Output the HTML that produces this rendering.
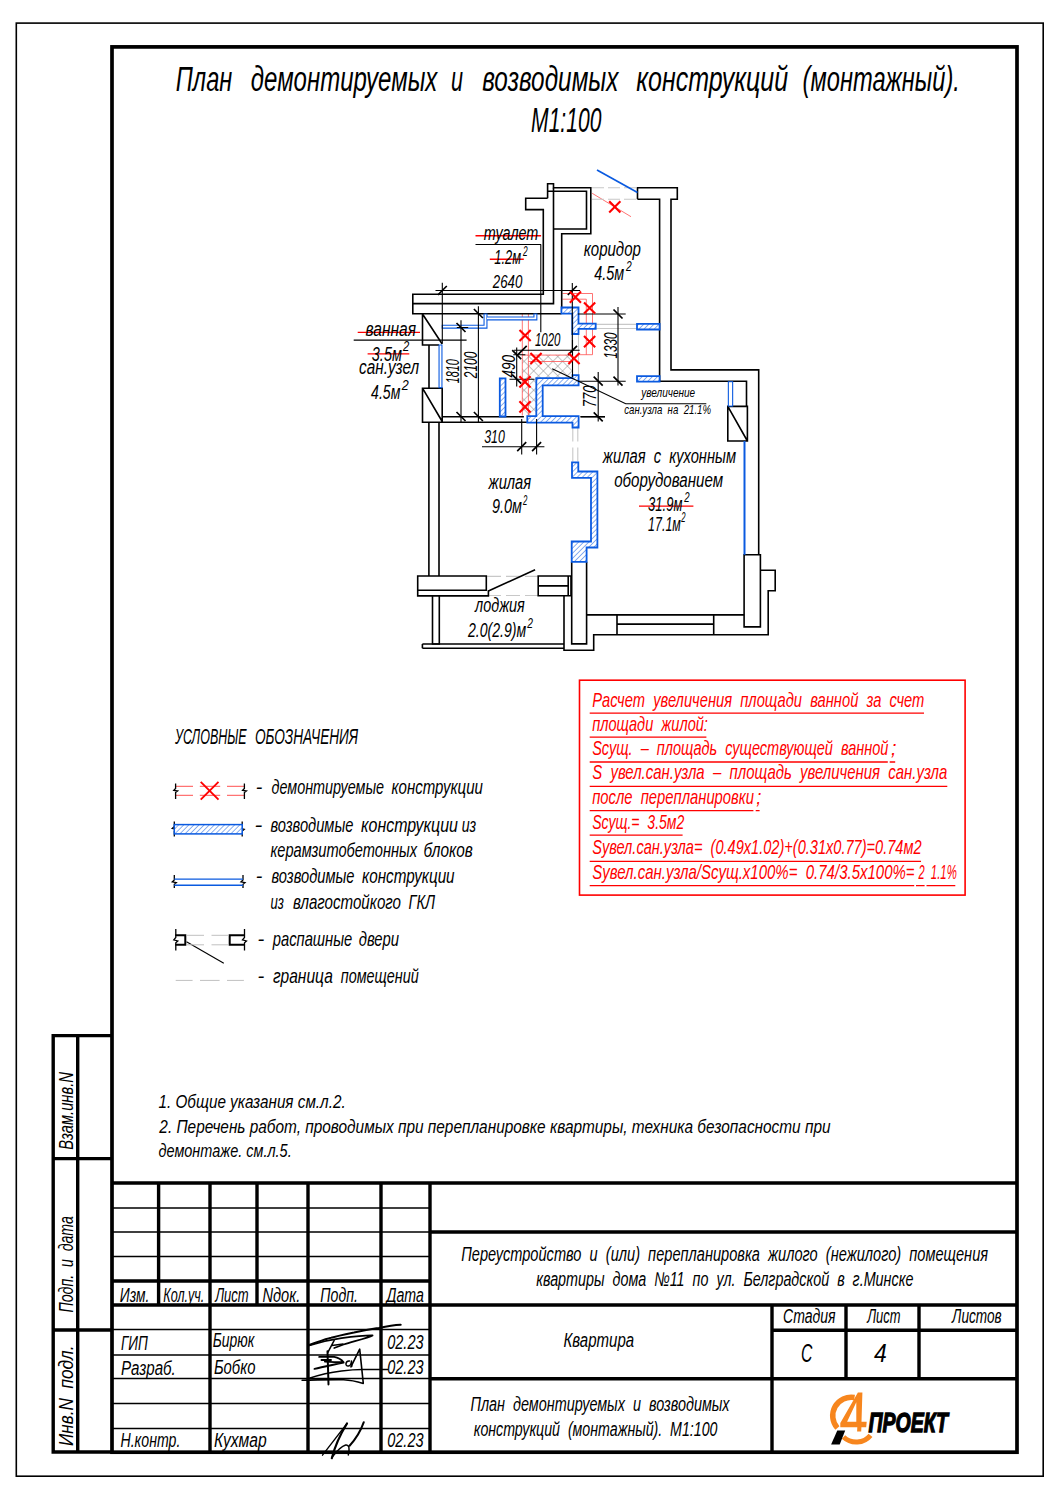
<!DOCTYPE html>
<html><head><meta charset="utf-8">
<style>
html,body{margin:0;padding:0;background:#fff;width:1060px;height:1500px;overflow:hidden}
svg{display:block}
.red{fill:#f00}
text{white-space:pre;font-family:"Liberation Sans",sans-serif;font-style:italic}
.k{stroke:#000;fill:none}
</style></head><body>
<svg width="1060" height="1500" viewBox="0 0 1060 1500">
<!-- outer frame -->
<rect x="16.3" y="23.1" width="1026.9" height="1453.1" class="k" stroke-width="1.6"/>
<!-- inner frame -->
<rect x="112" y="46.9" width="905" height="1405.3" class="k" stroke-width="3.7"/>
<!-- side strip -->
<g class="k" stroke-width="3.4">
<path d="M112 1035.6H53.2V1452H112 M77.7 1035.6V1452 M53.2 1158.6H112 M53.2 1330H112"/>
</g>
<!-- title block thick -->
<g class="k" stroke-width="3.4">
<path d="M112 1183H1017 M112 1281H430 M112 1305H1017 M430 1232H1017 M430 1378.7H1017 M772 1305V1452 M846 1305V1378.7 M919 1305V1378.7 M772 1330.3H1017"/>
<path d="M158.6 1183V1305 M210 1183V1452 M257 1183V1305 M308 1183V1452 M381 1183V1452 M430 1183V1452"/>
</g>
<g class="k" stroke-width="1.5">
<path d="M112 1208H430 M112 1232H430 M112 1256.6H430 M112 1329.6H430 M112 1355H430 M112 1378.5H430 M112 1403.5H430 M112 1428.5H430"/>
</g>
<!-- title -->

<defs>
<pattern id="hb" patternUnits="userSpaceOnUse" width="3.6" height="3.6" patternTransform="rotate(45)">
<rect width="3.6" height="3.6" fill="#fff"/><line x1="0" y1="0" x2="0" y2="3.6" stroke="#2a6ee6" stroke-width="1.1"/>
</pattern>
<pattern id="hx" patternUnits="userSpaceOnUse" width="6.8" height="6.8" patternTransform="rotate(45)">
<path d="M0 0V6.8M0 0H6.8" stroke="#8a8a8a" stroke-width="1" fill="none"/>
</pattern>
</defs>
<g id="plan">
<!-- crosshatch demolished -->
<path d="M522 354.7H572.5V378.1H536.3V415.5H522Z" fill="url(#hx)"/>
<!-- red thin demolished outlines -->
<g stroke="#ff5050" stroke-width="0.8" fill="none">
<path d="M562.5 293.5H592.5V354.7H578.5 M562.5 299.2H586.3V354.7"/>
<path d="M522.3 313.7V415.5 M528.4 313.7V415.5 M522 355.1H572.5 M528.4 361.5H572.5"/>
<path d="M592.2 193.3L631 216.7"/>
</g>
<!-- gray room boundaries -->
<g stroke="#c8c8c8" stroke-width="1.1" fill="none">
<path d="M592 187.7H637.5 M592 199.3H637.5" stroke-dasharray="12 4"/>
<path d="M595.7 324.4H637 M595.7 328.5H637"/>
<path d="M572.5 334V355 M578.5 334V377"/>
<path d="M572.8 427.5V462.3 M577.8 427.5V462.3" stroke-dasharray="14 6"/>
<path d="M487 576.4H538.2 M487 595.5H538.2" stroke-dasharray="14 5"/>
</g>
<!-- black walls -->
<g stroke="#000" stroke-width="1.6" fill="none" stroke-linejoin="miter">
<path d="M547.6 198.3V183.7H553.5V187.7H590.8V233.7H561.7V307.5"/>
<path d="M547.6 191.2H586.5V229H553.5"/>
<path d="M547.6 198.3H525.7V209.6H543.3V294.3H412.8V313.7H561.4"/>
<path d="M553.5 187.7V303.6H412.8"/>
<path d="M637.5 199.3V187.7H677.3V199.3H671V369.9H758.7V554.8"/>
<path d="M637.5 199.3H659.6V381.2H746.5V406.4"/>
<path d="M727.8 406.4H747.4V441H727.8Z M727.8 406.4L747.4 441"/>
<path d="M422.5 314V345H439 M422.5 314L442.2 344"/>
<path d="M429 345V388.2 M422.5 388.2H442.2V422.2H422.5Z M422.5 388.2L442.2 421.5"/>
<path d="M442.2 416.8H523.9 M442.2 422.3H526.9 M580.5 416.8H605"/>
<path d="M428.9 422.2V576 M439 422.2V576"/>
<path d="M417.7 576H486.3V590.2H417.7Z M417.7 590.2V595.9H488.4V590.2"/>
<path d="M488.4 591L535.1 569.7"/>
<path d="M432.5 595.9V644H439.3V595.9"/>
<path d="M422.4 644H564 M422.4 648.2H564 M422.4 644V648.2"/>
<path d="M538.2 576H571V595.8H538.2Z M538.2 585.9H568.2 M568.2 576V595.8"/>
<path d="M571.7 561.8V643.9H586.6V561.8"/>
<path d="M564 595.8V650.3H593.7V634.7H768.2V590.8H775.2V570.3H760.4"/>
<path d="M744.1 554.8H760.4V626.9H744.1Z"/>
<path d="M586.6 614.9H744.1 M617 614.9V634.7 M713.7 614.9V634.7 M617 624.1H713.7"/>
</g>
<!-- blue GKL -->
<g fill="none" stroke-linejoin="miter">
<path d="M441.7 326.7H485.5V313.5 M485.5 318.4H535.4V313.5 M440.5 344.4V388.2" stroke="#0a5ae0" stroke-width="4"/>
<path d="M443 326.7H485.5V314.5 M487 318.4H535.4V314.5 M440.5 345.5V387" stroke="#fff" stroke-width="1.8"/>
<path d="M730.5 381.2V406.6" stroke="#0a5ae0" stroke-width="5.4"/>
<path d="M730.5 382.2V405.6" stroke="#fff" stroke-width="3.2"/>
<path d="M744.5 441V554.8" stroke="#0a5ae0" stroke-width="2"/>
<path d="M597 170L637.5 192.6" stroke="#0a5ae0" stroke-width="1.7"/>
</g>
<!-- blue hatched blocks -->
<g fill="url(#hb)" stroke="#0a5ae0" stroke-width="1.8" stroke-linejoin="miter">
<path d="M561.4 307.5H578.5V323.6H595.7V328.8H578.5V334H572.3V313.7H561.4Z"/>
<path d="M637 323.9H659.6V329.5H637Z M637 376.2H659.6V381.6H637Z"/>
<path d="M536.3 378.1H572.5V375.1H578.6V385.3H542.7V416.2H578.6V427.5H572.5V422.6H527.3V416.2H536.3Z"/>
<path d="M499.8 378.3H505.5V416.5H499.8Z"/>
<path d="M572 462.3H578.3V471.5H597.4V547.5H586.6V561.8H571.7V541.5H591V477.8H572Z"/>
</g>
<!-- dimensions -->
<g stroke="#000" stroke-width="1.1" fill="none">
<path d="M435.5 290.5H580.1 M442.3 282.8V343.6 M572.3 283.1V352.6"/>
<path d="M478.4 306.2V423 M461 320.2V423 M456.8 327.5H468.2"/>
<path d="M513.8 350.3H579.7 M540.8 244.5V332.2 M475.5 244.5H541.1"/>
<path d="M516.7 347.5V386.4 M513.3 354.7H525.4 M509.5 379.2H534.4 M572.5 340V377"/>
<path d="M618 306.9V385.4 M578 314H625.7 M578 381.2H625.7"/>
<path d="M598.2 372V421.5 M580.5 416.8H605"/>
<path d="M482 446.7H544.4 M521.7 419V454.5 M536.6 419V454.5"/>
<path d="M353.7 340.1H466.6"/>
<path d="M552.2 368.7L625.7 403.8H706.3"/>
</g>
<g stroke="#000" stroke-width="1.7">
<path d="M437.8 295.0l9-9 M567.8 295.0l9-9 M517.7 354.8l9-9 M568.0 354.8l9-9 M517.2 451.2l9-9 M532.1 451.2l9-9 M473.9 309.0l9 9 M456.5 323.0l9 9 M473.9 412.0l9 9 M456.5 412.0l9 9 M512.2 350.2l9 9 M512.2 374.7l9 9 M613.5 309.5l9 9 M613.5 376.7l9 9 M593.7 376.7l9 9 M593.7 412.3l9 9"/>
</g>
<!-- red X marks -->
<g stroke="#ff0000" stroke-width="2.1" stroke-linecap="butt">
<path d="M609.2 201.2l11.2 11.2m0-11.2l-11.2 11.2"/>
<path d="M569.8 291.5l11.2 11.2m0-11.2l-11.2 11.2"/>
<path d="M584 302.4l11.2 11.2m0-11.2l-11.2 11.2"/>
<path d="M584 336.1l11.2 11.2m0-11.2l-11.2 11.2"/>
<path d="M519.5 329.9l11.2 11.2m0-11.2l-11.2 11.2"/>
<path d="M530.4 352.9l11.2 11.2m0-11.2l-11.2 11.2"/>
<path d="M568.4 352.9l11.2 11.2m0-11.2l-11.2 11.2"/>
<path d="M519.4 376.3l11.2 11.2m0-11.2l-11.2 11.2"/>
<path d="M519.4 401.2l11.2 11.2m0-11.2l-11.2 11.2"/>
</g>
<!-- red strikes -->
<g stroke="#ff0000" stroke-width="1.4">
<path d="M475.5 235.8H541.1 M489.8 259.3H523.8 M357.7 332.4H420 M367.6 353.9H409.3 M639 506.1H693.4"/>
</g>
<!-- plan texts -->
</g>


<!-- legend -->
<g id="legend">
<g stroke="#ff5050" stroke-width="1" fill="none">
<path d="M176 786.3H193 M199.8 786.3H220.2 M227 786.3H244 M176 795.3H193 M199.8 795.3H220.2 M227 795.3H244"/>
</g>
<path d="M200.7 781.9L218.5 799.7M218.5 781.9L200.7 799.7" stroke="#ff0000" stroke-width="1.9"/>
<g stroke="#000" stroke-width="1.3" fill="none">
<path d="M175.6 783.6V788.5L173.8 790.4L177.6 791L175.6 792.5V798.9 M244.4 783.6V788.5L242.6 790.4L246.4 791L244.4 792.5V798.9"/>
<path d="M174.3 821.4V826.5L172.3 828.3L176.3 829.3L174.3 831V836.6 M242.2 821.4V826.5L240.2 828.3L244.2 829.3L242.2 831V836.6"/>
<path d="M174.3 875V880L172.3 881.8L176.3 882.7L174.3 884.3V888 M243 875V880L241 881.8L245 882.7L243 884.3V888"/>
<path d="M175.8 929V937.5L173.8 939.8L177.8 941L175.8 942.8V950.6 M244.5 929V937.5L242.5 939.8L246.5 941L244.5 942.8V950.6"/>
</g>
<rect x="174.3" y="824.6" width="67.9" height="9.3" fill="url(#hb)" stroke="#0a5ae0" stroke-width="1.5"/>
<path d="M174.3 879.1H243 M174.3 885.2H243" stroke="#0a5ae0" stroke-width="1.4"/>
<g stroke="#000" stroke-width="2" fill="none">
<path d="M175.3 935.3H185.3V944.8H175.3 M244.8 935.3H229.7V944.8H244.8"/>
</g>
<path d="M186.5 941.7L223.8 963.2" stroke="#000" stroke-width="1.1"/>
<g stroke="#c0c0c0" stroke-width="1" fill="none">
<path d="M187 935.3H204 M211.5 935.3H228 M187 944.8H204 M211.5 944.8H228"/>
<path d="M175.7 980.4H192.6 M200 980.4H219.6 M227 980.4H243.9"/>
</g>
</g>
<!-- red box -->
<g id="calc">
<rect x="579.5" y="680.2" width="385.6" height="214.9" fill="none" stroke="#ff0000" stroke-width="1.6"/>
<g stroke="#ff0000" stroke-width="1.3">
<path d="M589.7 713.2H924 M589.7 737.2H706.4 M589.7 762H887.8 M889.7 762H895.2 M589.7 786.4H947.3 M589.7 810.7H753.4 M755.7 810.7H759.6 M589.7 835.1H682.6 M589.7 861.4H921 M589.7 885.6H914.2 M916 885.6H924.6 M926.5 885.6H955.3"/>
</g>
</g>

<!-- title block texts -->


<!-- logo -->
<g id="logo">
<path d="M854.5 1397.5 A18.5 18.5 0 0 0 837.4 1428" fill="none" stroke="#f7861e" stroke-width="5.5"/>
<path d="M843.5 1437 A18.5 18.5 0 0 0 870.5 1435.3" fill="none" stroke="#f7861e" stroke-width="5"/>
<path d="M857.9 1392.4H862.4L861.5 1421.8H866.7L866.2 1427.3H861.4L861.2 1431.6H857.1L857.3 1427.3H840.3L840.3 1423Z M856.3 1402.2L847.1 1421.8H856.3Z" fill="#f7861e" fill-rule="evenodd"/>
<path d="M837.3 1430.4H845.2L839.7 1444.5H831.1Z" fill="#000"/>
</g>
<!-- signatures -->
<g stroke="#000" fill="none" stroke-linecap="round" stroke-linejoin="round">
<path d="M309.3 1345C318 1342 325 1339 331.1 1337.7C340 1335.5 348 1333.5 354 1332.5C365 1330 372 1329 378.9 1327.9C388 1326 395 1325 400.7 1324.7" stroke-width="2"/>
<path d="M309.3 1345.5C320 1342 332 1339.5 341.5 1338.2C355 1336.3 365 1335.3 372.6 1335.4C369 1337.5 355 1341 343.6 1344.5L334.2 1348" stroke-width="1.7"/>
<path d="M334.2 1340.3L328 1352.2 M332 1345.5L343 1344" stroke-width="1.5"/>
<path d="M327.5 1351.2L328.5 1384.4" stroke-width="2"/>
<path d="M319.2 1356.9H334.2C338 1357.5 341 1359 343.6 1362.3C337 1362.3 330 1361.8 324.9 1361.6 M321.5 1360H331 M314.5 1368.9C322 1367 330 1365.5 343.6 1362.6" stroke-width="1.9"/>
<path d="M349.5 1361C345.5 1360.5 344.5 1366.5 348.5 1366C351 1365.7 351.5 1361 351.5 1361L351.7 1366.5" stroke-width="1.5"/>
<path d="M350.9 1366.8L359.7 1349.1L363.3 1383.4C357 1381.5 350 1380 343.6 1379.7C330 1379.5 315 1380 302.1 1380.3" stroke-width="1.6"/>
<path d="M309.3 1378.2C320 1374.5 332 1372 341.5 1370.9C350 1369.8 356 1369.4 362.3 1369.4H387.7" stroke-width="1.5"/>
<path d="M322.5 1455.2L347 1423.5" stroke-width="1.3"/>
<path d="M347 1423.5C343 1430 336 1442 331.8 1458.2" stroke-width="2.2"/>
<path d="M331.8 1457.6C336 1452 342 1446 345.7 1445C349 1444.5 350 1448 348.3 1454.9" stroke-width="1.5"/>
<path d="M349.6 1445.7C354 1441 360 1433 363.8 1422.2" stroke-width="2"/>
</g>

<!-- notes -->
<text x="175.71" y="91.2" font-size="34.2" textLength="56.56" lengthAdjust="spacingAndGlyphs">План</text>
<text x="250.80" y="91.2" font-size="34.2" textLength="186.56" lengthAdjust="spacingAndGlyphs">демонтируемых</text>
<text x="451.07" y="91.2" font-size="34.2" textLength="12.04" lengthAdjust="spacingAndGlyphs">и</text>
<text x="482.20" y="91.2" font-size="34.2" textLength="136.24" lengthAdjust="spacingAndGlyphs">возводимых</text>
<text x="636.30" y="91.2" font-size="34.2" textLength="151.81" lengthAdjust="spacingAndGlyphs">конструкций</text>
<text x="802.61" y="91.2" font-size="34.2" textLength="157.32" lengthAdjust="spacingAndGlyphs">(монтажный).</text>
<text x="531.10" y="132" font-size="35" textLength="70.28" lengthAdjust="spacingAndGlyphs">М1:100</text>
<text x="158.50" y="1107.6" font-size="18.5" textLength="187.16" lengthAdjust="spacingAndGlyphs">1. Общие указания см.л.2.</text>
<text x="159.33" y="1133.1" font-size="18.5" textLength="671.21" lengthAdjust="spacingAndGlyphs">2. Перечень работ, проводимых при перепланировке квартиры, техника безопасности при</text>
<text x="158.50" y="1157.2" font-size="18.5" textLength="133.17" lengthAdjust="spacingAndGlyphs">демонтаже. см.л.5.</text>
<text x="483.80" y="240" font-size="19.5" textLength="54.48" lengthAdjust="spacingAndGlyphs">туалет</text>
<text x="494.30" y="264.2" font-size="19.5" textLength="26.74" lengthAdjust="spacingAndGlyphs">1.2м</text>
<text x="522.88" y="255.8" font-size="14.5" textLength="4.66" lengthAdjust="spacingAndGlyphs">2</text>
<text x="492.74" y="287.5" font-size="18" textLength="29.57" lengthAdjust="spacingAndGlyphs">2640</text>
<text x="583.70" y="255.6" font-size="19.5" textLength="57.18" lengthAdjust="spacingAndGlyphs">коридор</text>
<text x="594.30" y="279.7" font-size="19.5" textLength="29.97" lengthAdjust="spacingAndGlyphs">4.5м</text>
<text x="626.11" y="271.2" font-size="14.5" textLength="5.73" lengthAdjust="spacingAndGlyphs">2</text>
<text x="365.50" y="335.9" font-size="19.5" textLength="50.44" lengthAdjust="spacingAndGlyphs">ванная</text>
<text x="371.80" y="360.7" font-size="19.5" textLength="30.07" lengthAdjust="spacingAndGlyphs">3.5м</text>
<text x="403.08" y="350.8" font-size="14.5" textLength="6.27" lengthAdjust="spacingAndGlyphs">2</text>
<text x="359.10" y="374.1" font-size="19.5" textLength="60.10" lengthAdjust="spacingAndGlyphs">сан.узел</text>
<text x="371.10" y="398.9" font-size="19.5" textLength="29.27" lengthAdjust="spacingAndGlyphs">4.5м</text>
<text x="401.67" y="390.4" font-size="14.5" textLength="6.99" lengthAdjust="spacingAndGlyphs">2</text>
<text x="535.00" y="346.4" font-size="18" textLength="25.41" lengthAdjust="spacingAndGlyphs">1020</text>
<text x="484.20" y="443.2" font-size="18" textLength="20.61" lengthAdjust="spacingAndGlyphs">310</text>
<text transform="translate(458.9 383.30) rotate(-90)" font-size="18" textLength="24.11" lengthAdjust="spacingAndGlyphs">1810</text>
<text transform="translate(476.5 378.33) rotate(-90)" font-size="18" textLength="26.84" lengthAdjust="spacingAndGlyphs">2100</text>
<text transform="translate(515.4 377.60) rotate(-90)" font-size="18" textLength="22.61" lengthAdjust="spacingAndGlyphs">490</text>
<text transform="translate(616.5 358.50) rotate(-90)" font-size="18" textLength="26.11" lengthAdjust="spacingAndGlyphs">1330</text>
<text transform="translate(596 407.33) rotate(-90)" font-size="18" textLength="21.94" lengthAdjust="spacingAndGlyphs">770</text>
<text x="641.27" y="397.4" font-size="13" textLength="53.91" lengthAdjust="spacingAndGlyphs">увеличение</text>
<text x="624.20" y="413.7" font-size="13" textLength="86.81" lengthAdjust="spacingAndGlyphs">сан.узла  на  21.1%</text>
<text x="602.85" y="462.6" font-size="19.5" textLength="133.12" lengthAdjust="spacingAndGlyphs">жилая  с  кухонным</text>
<text x="614.20" y="486.8" font-size="19.5" textLength="108.89" lengthAdjust="spacingAndGlyphs">оборудованием</text>
<text x="648.10" y="511" font-size="19.5" textLength="34.25" lengthAdjust="spacingAndGlyphs">31.9м</text>
<text x="684.27" y="501.9" font-size="14.5" textLength="5.38" lengthAdjust="spacingAndGlyphs">2</text>
<text x="648.10" y="531.3" font-size="19.5" textLength="32.73" lengthAdjust="spacingAndGlyphs">17.1м</text>
<text x="681.13" y="522.3" font-size="14.5" textLength="4.30" lengthAdjust="spacingAndGlyphs">2</text>
<text x="488.55" y="489.1" font-size="19.5" textLength="42.61" lengthAdjust="spacingAndGlyphs">жилая</text>
<text x="492.00" y="513.2" font-size="19.5" textLength="29.97" lengthAdjust="spacingAndGlyphs">9.0м</text>
<text x="523.04" y="505.4" font-size="14.5" textLength="4.39" lengthAdjust="spacingAndGlyphs">2</text>
<text x="475.04" y="611.5" font-size="19.5" textLength="49.73" lengthAdjust="spacingAndGlyphs">лоджия</text>
<text x="467.92" y="637" font-size="19.5" textLength="58.24" lengthAdjust="spacingAndGlyphs">2.0(2.9)м</text>
<text x="527.31" y="628.4" font-size="14.5" textLength="5.73" lengthAdjust="spacingAndGlyphs">2</text>
<text x="174.98" y="743.6" font-size="21.5" textLength="71.73" lengthAdjust="spacingAndGlyphs">УСЛОВНЫЕ</text>
<text x="254.96" y="743.6" font-size="21.5" textLength="103.22" lengthAdjust="spacingAndGlyphs">ОБОЗНАЧЕНИЯ</text>
<text x="255.85" y="794.1" font-size="20.8" textLength="6.58" lengthAdjust="spacingAndGlyphs">-</text>
<text x="271.50" y="794.1" font-size="20.8" textLength="112.49" lengthAdjust="spacingAndGlyphs">демонтируемые</text>
<text x="391.50" y="794.1" font-size="20.8" textLength="91.39" lengthAdjust="spacingAndGlyphs">конструкции</text>
<text x="254.57" y="832.3" font-size="20.8" textLength="7.85" lengthAdjust="spacingAndGlyphs">-</text>
<text x="270.40" y="832.3" font-size="20.8" textLength="83.00" lengthAdjust="spacingAndGlyphs">возводимые</text>
<text x="361.00" y="832.3" font-size="20.8" textLength="96.97" lengthAdjust="spacingAndGlyphs">конструкции</text>
<text x="461.70" y="832.3" font-size="20.8" textLength="14.47" lengthAdjust="spacingAndGlyphs">из</text>
<text x="270.40" y="857.2" font-size="20.8" textLength="146.68" lengthAdjust="spacingAndGlyphs">керамзитобетонных</text>
<text x="423.56" y="857.2" font-size="20.8" textLength="49.33" lengthAdjust="spacingAndGlyphs">блоков</text>
<text x="255.85" y="883.2" font-size="20.8" textLength="6.58" lengthAdjust="spacingAndGlyphs">-</text>
<text x="271.50" y="883.2" font-size="20.8" textLength="83.00" lengthAdjust="spacingAndGlyphs">возводимые</text>
<text x="362.00" y="883.2" font-size="20.8" textLength="92.58" lengthAdjust="spacingAndGlyphs">конструкции</text>
<text x="270.40" y="909.2" font-size="20.8" textLength="13.39" lengthAdjust="spacingAndGlyphs">из</text>
<text x="293.00" y="909.2" font-size="20.8" textLength="108.01" lengthAdjust="spacingAndGlyphs">влагостойкого</text>
<text x="408.50" y="909.2" font-size="20.8" textLength="26.58" lengthAdjust="spacingAndGlyphs">ГКЛ</text>
<text x="257.52" y="945.5" font-size="20.8" textLength="6.81" lengthAdjust="spacingAndGlyphs">-</text>
<text x="272.71" y="945.5" font-size="20.8" textLength="79.59" lengthAdjust="spacingAndGlyphs">распашные</text>
<text x="358.70" y="945.5" font-size="20.8" textLength="40.39" lengthAdjust="spacingAndGlyphs">двери</text>
<text x="257.52" y="982.8" font-size="20.8" textLength="6.81" lengthAdjust="spacingAndGlyphs">-</text>
<text x="272.90" y="982.8" font-size="20.8" textLength="59.92" lengthAdjust="spacingAndGlyphs">граница</text>
<text x="340.80" y="982.8" font-size="20.8" textLength="77.90" lengthAdjust="spacingAndGlyphs">помещений</text>
<text x="592.20" y="706.5" font-size="19.8" class="red" textLength="332.16" lengthAdjust="spacingAndGlyphs">Расчет  увеличения  площади  ванной  за  счет</text>
<text x="592.20" y="731.2" font-size="19.8" class="red" textLength="115.66" lengthAdjust="spacingAndGlyphs">площади  жилой:</text>
<text x="592.20" y="755.2" font-size="19.8" class="red" textLength="296.20" lengthAdjust="spacingAndGlyphs">Sсущ.  –  площадь  существующей  ванной</text>
<text x="890.90" y="755.2" font-size="19.8" class="red" textLength="5.39" lengthAdjust="spacingAndGlyphs">;</text>
<text x="592.20" y="779.2" font-size="19.8" class="red" textLength="355.10" lengthAdjust="spacingAndGlyphs">S  увел.сан.узла  –  площадь  увеличения  сан.узла</text>
<text x="592.20" y="804" font-size="19.8" class="red" textLength="161.80" lengthAdjust="spacingAndGlyphs">после  перепланировки</text>
<text x="756.20" y="804" font-size="19.8" class="red" textLength="5.06" lengthAdjust="spacingAndGlyphs">;</text>
<text x="592.20" y="828.7" font-size="19.8" class="red" textLength="92.10" lengthAdjust="spacingAndGlyphs">Sсущ.=  3.5м2</text>
<text x="592.20" y="854.2" font-size="19.8" class="red" textLength="329.40" lengthAdjust="spacingAndGlyphs">Sувел.сан.узла=  (0.49x1.02)+(0.31x0.77)=0.74м2</text>
<text x="592.20" y="878.9" font-size="19.8" class="red" textLength="322.42" lengthAdjust="spacingAndGlyphs">Sувел.сан.узла/Sсущ.x100%=  0.74/3.5x100%=</text>
<text x="918.46" y="878.9" font-size="19.8" class="red" textLength="6.14" lengthAdjust="spacingAndGlyphs">2</text>
<text x="930.80" y="878.9" font-size="19.8" class="red" textLength="26.04" lengthAdjust="spacingAndGlyphs">1.1%</text>
<text x="119.80" y="1301.9" font-size="20.5" textLength="29.55" lengthAdjust="spacingAndGlyphs">Изм.</text>
<text x="163.30" y="1301.9" font-size="20.5" textLength="41.04" lengthAdjust="spacingAndGlyphs">Кол.уч.</text>
<text x="215.17" y="1301.9" font-size="20.5" textLength="33.48" lengthAdjust="spacingAndGlyphs">Лист</text>
<text x="262.50" y="1301.9" font-size="20.5" textLength="37.71" lengthAdjust="spacingAndGlyphs">Nдок.</text>
<text x="320.30" y="1301.9" font-size="20.5" textLength="37.67" lengthAdjust="spacingAndGlyphs">Подп.</text>
<text x="386.48" y="1301.9" font-size="20.5" textLength="37.39" lengthAdjust="spacingAndGlyphs">Дата</text>
<text x="121.00" y="1350.2" font-size="20" textLength="26.86" lengthAdjust="spacingAndGlyphs">ГИП</text>
<text x="121.00" y="1375.1" font-size="20" textLength="54.78" lengthAdjust="spacingAndGlyphs">Разраб.</text>
<text x="120.50" y="1446.8" font-size="20" textLength="59.80" lengthAdjust="spacingAndGlyphs">Н.контр.</text>
<text x="212.80" y="1347.2" font-size="20" textLength="41.52" lengthAdjust="spacingAndGlyphs">Бирюк</text>
<text x="213.90" y="1373.6" font-size="20" textLength="41.59" lengthAdjust="spacingAndGlyphs">Бобко</text>
<text x="213.90" y="1446.8" font-size="20" textLength="52.90" lengthAdjust="spacingAndGlyphs">Кухмар</text>
<text x="387.20" y="1349.4" font-size="20" textLength="36.39" lengthAdjust="spacingAndGlyphs">02.23</text>
<text x="387.20" y="1374.2" font-size="20" textLength="36.39" lengthAdjust="spacingAndGlyphs">02.23</text>
<text x="387.20" y="1446.8" font-size="20" textLength="36.39" lengthAdjust="spacingAndGlyphs">02.23</text>
<text x="461.20" y="1261" font-size="20" textLength="526.87" lengthAdjust="spacingAndGlyphs">Переустройство  и  (или)  перепланировка  жилого  (нежилого)  помещения</text>
<text x="536.20" y="1285.8" font-size="20" textLength="377.19" lengthAdjust="spacingAndGlyphs">квартиры  дома  №11  по  ул.  Белградской  в  г.Минске</text>
<text x="563.50" y="1347.3" font-size="20" textLength="70.59" lengthAdjust="spacingAndGlyphs">Квартира</text>
<text x="470.50" y="1411.4" font-size="20" textLength="259.08" lengthAdjust="spacingAndGlyphs">План  демонтируемых  и  возводимых</text>
<text x="473.70" y="1436.1" font-size="20" textLength="243.79" lengthAdjust="spacingAndGlyphs">конструкций  (монтажный).  М1:100</text>
<text x="783.10" y="1323.4" font-size="20" textLength="52.48" lengthAdjust="spacingAndGlyphs">Стадия</text>
<text x="867.19" y="1323.4" font-size="20" textLength="33.24" lengthAdjust="spacingAndGlyphs">Лист</text>
<text x="952.06" y="1323.4" font-size="20" textLength="49.54" lengthAdjust="spacingAndGlyphs">Листов</text>
<text x="800.99" y="1361.7" font-size="26" textLength="11.37" lengthAdjust="spacingAndGlyphs">С</text>
<text x="874.00" y="1361.7" font-size="26" textLength="12.81" lengthAdjust="spacingAndGlyphs">4</text>
<text transform="translate(73 1149.70) rotate(-90)" font-size="20.5" textLength="77.56" lengthAdjust="spacingAndGlyphs">Взам.инв.N</text>
<text transform="translate(73 1312.50) rotate(-90)" font-size="20.5" textLength="96.28" lengthAdjust="spacingAndGlyphs">Подп.  и  дата</text>
<text transform="translate(73 1446.00) rotate(-90)" font-size="20.5" textLength="100.42" lengthAdjust="spacingAndGlyphs">Инв.N  подл.</text>
<text x="868.50" y="1432.2" font-size="27.5" font-weight="bold" style="stroke:#000;stroke-width:1.3;stroke-linejoin:miter" textLength="79.44" lengthAdjust="spacingAndGlyphs">ПРОЕКТ</text>
</svg>
</body></html>
